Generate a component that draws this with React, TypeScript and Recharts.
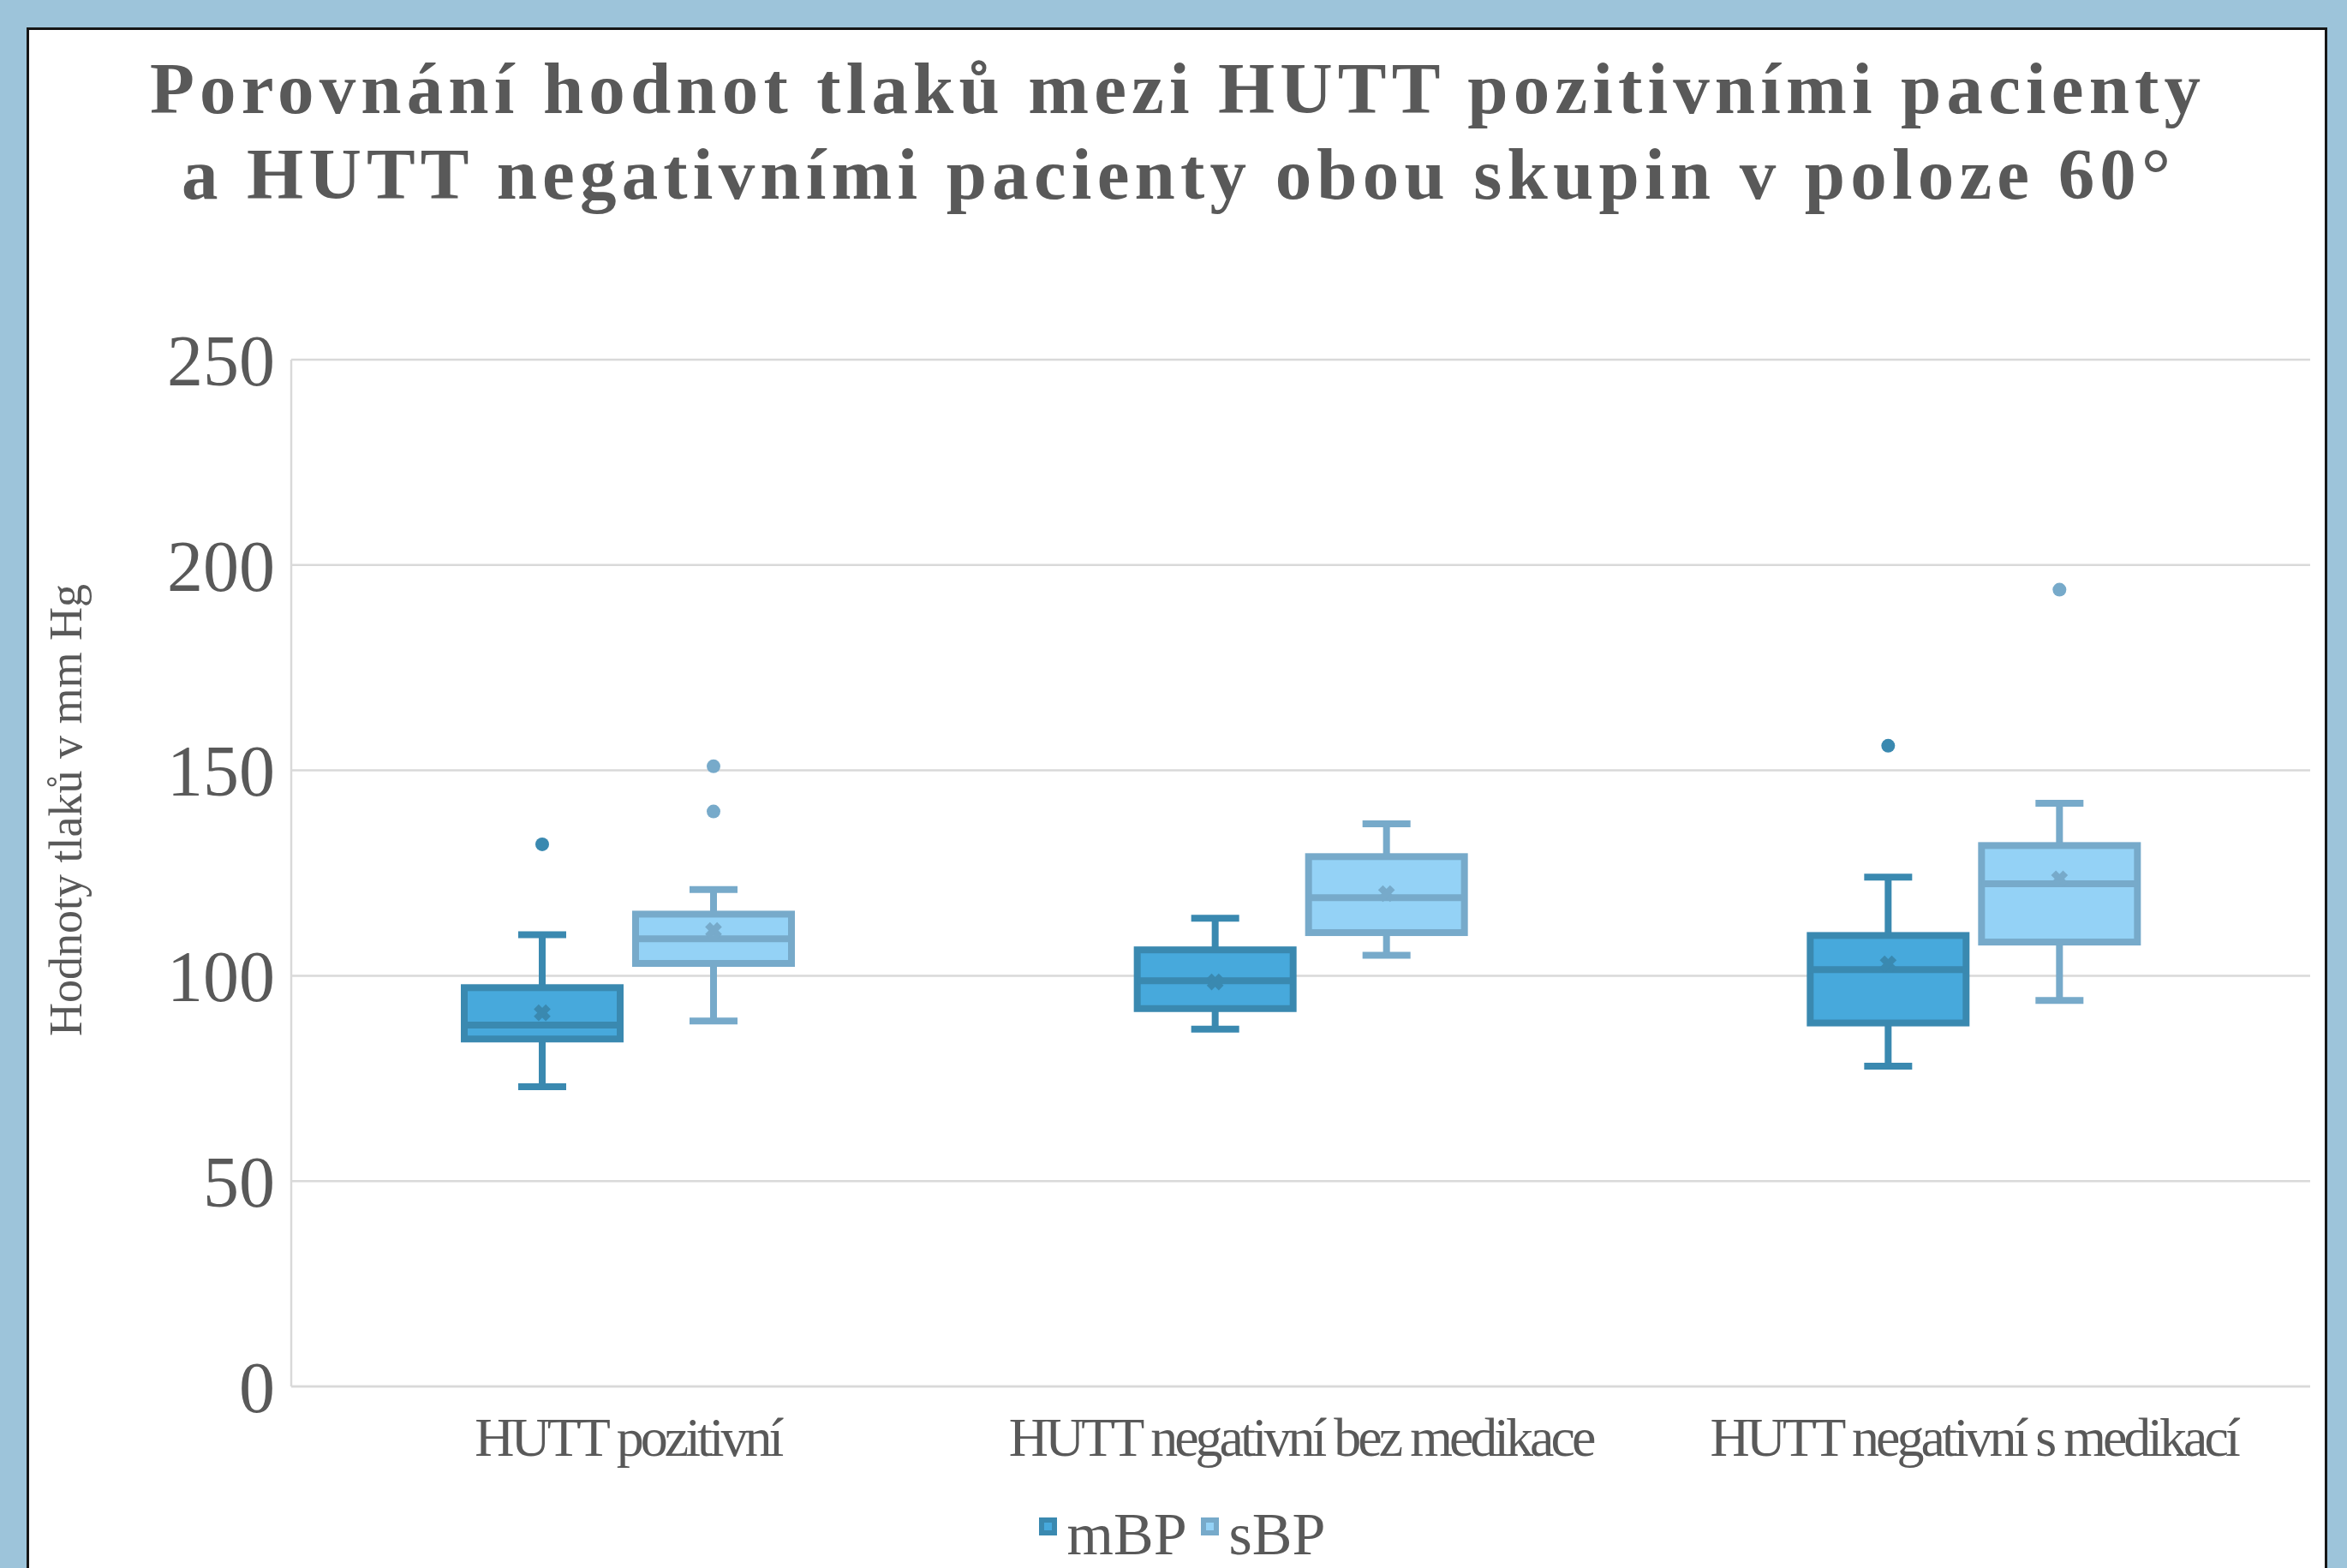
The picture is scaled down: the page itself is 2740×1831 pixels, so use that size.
import React from 'react';
import { ComposedChart, Bar, XAxis, YAxis, CartesianGrid, Legend } from 'recharts';

// ---- data ----
const categories = ['HUTT pozitivní', 'HUTT negativní bez medikace', 'HUTT negativní s medikací'];
const yTicks = [0, 50, 100, 150, 200, 250];
const seriesNames = ['mBP', 'sBP'];

const mbpMin = [73, 87, 78];
const mbpQ1 = [84.6, 92, 88.5];
const mbpMedian = [88, 98.8, 101.5];
const mbpQ3 = [97.1, 106.3, 109.8];
const mbpMax = [110, 114, 124];
const mbpMean = [91, 98.5, 102.9];
const mbpOutliers = [[132], [], [156]];

const sbpMin = [89, 105, 94];
const sbpQ1 = [103, 110.5, 108.2];
const sbpMedian = [109, 119, 122.4];
const sbpQ3 = [115, 129, 131.7];
const sbpMax = [121, 137, 142];
const sbpMean = [111, 120, 123.6];
const sbpOutliers = [[151, 140], [], [194]];

const titleLines = [
  'Porovnání hodnot tlaků mezi HUTT pozitivními pacienty',
  'a HUTT negativními pacienty obou skupin v poloze 60°',
];
const yAxisTitle = 'Hodnoty tlaků v mm Hg';

// ---- styles ----
const TEXT = '#595959';
const FONT = 'Liberation Serif';
const M_STROKE = '#3A89B0';
const M_FILL = '#47A9DC';
const S_STROKE = '#77AACA';
const S_FILL = '#94D2F6';
const GRID = '#D9D9D9';

const data = categories.map((name, i) => ({
  name,
  mBase: mbpQ1[i],
  mBox: mbpQ3[i] - mbpQ1[i],
  sBase: sbpQ1[i],
  sBox: sbpQ3[i] - sbpQ1[i],
  m: { min: mbpMin[i], q1: mbpQ1[i], median: mbpMedian[i], q3: mbpQ3[i], max: mbpMax[i], mean: mbpMean[i], outliers: mbpOutliers[i] },
  s: { min: sbpMin[i], q1: sbpQ1[i], median: sbpMedian[i], q3: sbpQ3[i], max: sbpMax[i], mean: sbpMean[i], outliers: sbpOutliers[i] },
}));

const makeBoxShape = (key: 'm' | 's', stroke: string, fill: string) => (props: any) => {
  const { x, y, width, height, payload } = props;
  const st = payload[key];
  if (!st || !height) return <g />;
  const ppu = height / (st.q3 - st.q1);
  const toY = (v: number) => y + (st.q3 - v) * ppu;
  const cx = x + width / 2;
  const sw = 8;
  const capHalf = 28;
  const yMax = toY(st.max);
  const yMin = toY(st.min);
  const yMed = toY(st.median);
  const yMean = toY(st.mean);
  const mk = 7;
  return (
    <g>
      <line x1={cx} x2={cx} y1={yMax} y2={y} stroke={stroke} strokeWidth={sw} />
      <line x1={cx} x2={cx} y1={y + height} y2={yMin} stroke={stroke} strokeWidth={sw} />
      <line x1={cx - capHalf} x2={cx + capHalf} y1={yMax} y2={yMax} stroke={stroke} strokeWidth={sw} />
      <line x1={cx - capHalf} x2={cx + capHalf} y1={yMin} y2={yMin} stroke={stroke} strokeWidth={sw} />
      <rect x={x} y={y} width={width} height={height} fill={fill} stroke={stroke} strokeWidth={sw} />
      <line x1={x} x2={x + width} y1={yMed} y2={yMed} stroke={stroke} strokeWidth={sw} />
      <line x1={cx - mk} y1={yMean - mk} x2={cx + mk} y2={yMean + mk} stroke={stroke} strokeWidth={8} />
      <line x1={cx - mk} y1={yMean + mk} x2={cx + mk} y2={yMean - mk} stroke={stroke} strokeWidth={8} />
      {st.outliers.map((o: number, j: number) => (
        <circle key={j} cx={cx} cy={toY(o)} r={8} fill={stroke} />
      ))}
    </g>
  );
};

const mShape = makeBoxShape('m', M_STROKE, M_FILL);
const sShape = makeBoxShape('s', S_STROKE, S_FILL);

const XTick = (props: any) => {
  const { x, y, payload } = props;
  return (
    <text x={x} y={y} dy={45} textAnchor="middle" fontSize={64} fontFamily={FONT} fill={TEXT} letterSpacing={-4}>
      {payload.value}
    </text>
  );
};

const legendColors = [
  { stroke: M_STROKE, fill: M_FILL },
  { stroke: S_STROKE, fill: S_FILL },
];

const renderLegend = () => (
  <div style={{ display: 'flex', justifyContent: 'center', alignItems: 'flex-start', paddingLeft: 20 }}>
    {seriesNames.map((n, i) => (
      <div key={n} style={{ display: 'flex', alignItems: 'flex-start', marginRight: i === 0 ? 16 : 0 }}>
        <span
          style={{
            display: 'inline-block',
            width: 21,
            height: 21,
            boxSizing: 'border-box',
            border: `6px solid ${legendColors[i].stroke}`,
            background: legendColors[i].fill,
            marginTop: 14,
            marginRight: 12,
          }}
        />
        <span style={{ fontFamily: FONT, fontSize: 70, lineHeight: '68px', color: TEXT }}>{n}</span>
      </div>
    ))}
  </div>
);

export default function App() {
  return (
    <div style={{ position: 'absolute', left: 0, top: 0, width: 2740, height: 1831, overflow: 'hidden', background: '#9DC4DA' }}>
      <div
        style={{
          position: 'absolute',
          left: 31,
          top: 32,
          width: 2686,
          height: 1900,
          boxSizing: 'border-box',
          border: '3px solid #161616',
          background: '#FFFFFF',
        }}
      />
      <svg style={{ position: 'absolute', left: 0, top: 0 }} width={2740} height={1831}>
        <text x={1372} y={132} textAnchor="middle" fontSize={85} fontWeight="bold" fontFamily={FONT} fill={TEXT} textLength={2394} lengthAdjust="spacing">
          {titleLines[0]}
        </text>
        <text x={1373} y={232} textAnchor="middle" fontSize={85} fontWeight="bold" fontFamily={FONT} fill={TEXT} textLength={2322} lengthAdjust="spacing">
          {titleLines[1]}
        </text>
        <text x={95} y={946} textAnchor="middle" fontSize={54} fontFamily={FONT} fill={TEXT} transform="rotate(-90, 95, 946)">
          {yAxisTitle}
        </text>
      </svg>
      <div style={{ position: 'absolute', left: 0, top: 0 }}>
        <ComposedChart
          width={2740}
          height={1831}
          data={data}
          margin={{ top: 420, right: 43, bottom: 182, left: 0 }}
          barSize={182}
          barGap={18}
        >
          <CartesianGrid vertical={false} stroke={GRID} strokeWidth={2.5} />
          <XAxis
            dataKey="name"
            height={30}
            interval={0}
            tickLine={false}
            tickSize={0}
            tickMargin={36}
            axisLine={{ stroke: GRID, strokeWidth: 2.5 }}
            tick={<XTick />}
          />
          <YAxis
            type="number"
            width={340}
            domain={[0, 250]}
            ticks={yTicks}
            tickLine={false}
            tickSize={0}
            tickMargin={19}
            axisLine={{ stroke: GRID, strokeWidth: 2.5 }}
            tick={{ fontSize: 84, fill: TEXT, fontFamily: FONT }}
          />
          <Bar dataKey="mBase" stackId="m" fill="transparent" legendType="none" isAnimationActive={false} />
          <Bar dataKey="mBox" stackId="m" name="mBP" fill={M_FILL} stroke={M_STROKE} shape={mShape} isAnimationActive={false} />
          <Bar dataKey="sBase" stackId="s" fill="transparent" legendType="none" isAnimationActive={false} />
          <Bar dataKey="sBox" stackId="s" name="sBP" fill={S_FILL} stroke={S_STROKE} shape={sShape} isAnimationActive={false} />
          <Legend
            layout="horizontal"
            verticalAlign="middle"
            align="center"
            content={renderLegend}
            wrapperStyle={{ top: 1758, left: 0, width: 2740 }}
          />
        </ComposedChart>
      </div>
    </div>
  );
}
